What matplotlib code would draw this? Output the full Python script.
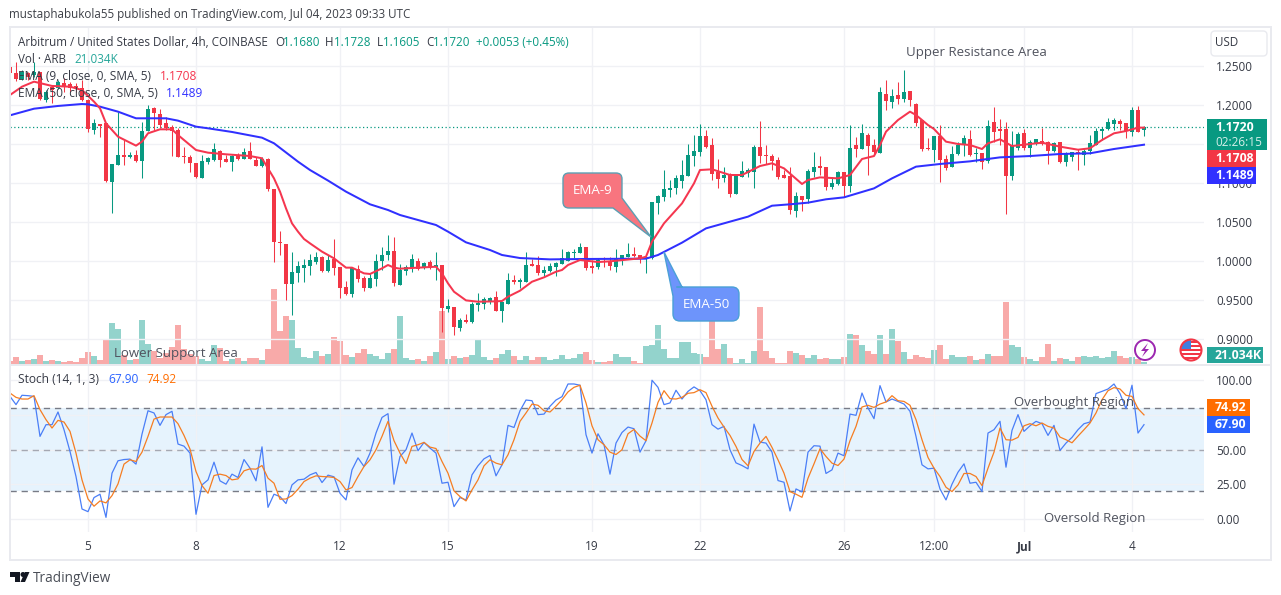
import numpy as np #calculs sur les tableaux
import matplotlib
matplotlib.use("Agg")
import matplotlib.pyplot as plt #graphique
from matplotlib.patches import Rectangle, Circle, Polygon, PathPatch, FancyBboxPatch
from matplotlib.path import Path

plt.rcParams['font.family'] = ['Open Sans', 'DejaVu Sans']

#bougies 4h ARB/USD
ouverture = [
    1.2488,1.2403,1.2326,1.2403,1.2382,1.2424,1.2061,1.2232,1.2211,1.2275,
    1.2262,1.2241,1.2211,1.2061,1.1677,1.1750,1.1763,1.1016,1.1233,1.1353,
    1.1336,1.1353,1.1285,1.1660,1.1963,1.1882,1.1763,1.1711,1.1677,1.1344,
    1.1336,1.1251,1.1067,1.1272,1.1293,1.1413,1.1306,1.1268,1.1357,1.1310,
    1.1413,1.1293,1.1221,1.1302,1.0922,1.0248,1.0218,0.9706,0.9851,0.9910,
    0.9936,0.9987,1.0051,0.9872,1.0026,0.9923,0.9667,0.9577,0.9898,0.9782,
    0.9654,0.9770,1.0000,1.0077,1.0128,0.9693,0.9872,0.9910,1.0000,0.9910,
    0.9987,0.9923,0.9949,0.9385,0.9411,0.9142,0.9245,0.9219,0.9437,0.9449,
    0.9488,0.9539,0.9360,0.9449,0.9757,0.9735,0.9731,0.9962,0.9949,0.9846,
    0.9872,0.9923,0.9962,1.0000,1.0098,1.0102,1.0179,0.9936,0.9923,1.0000,
    0.9987,0.9923,1.0021,1.0051,1.0090,1.0077,1.0026,1.0038,1.0738,1.0819,
    1.0909,1.0935,1.1024,1.1088,1.1344,1.1396,1.1601,1.1485,1.1140,1.1063,
    1.1114,1.0858,1.1075,1.1127,1.1140,1.1460,1.1357,1.1344,1.1293,1.1101,
    1.1088,1.0640,1.0832,1.0794,1.1140,1.1216,1.1204,1.0948,1.0986,1.1140,
    1.0960,1.1485,1.1434,1.1613,1.1485,1.1383,1.2138,1.2036,1.2125,1.2074,
    1.2177,1.2010,1.1805,1.1447,1.1421,1.1601,1.1306,1.1204,1.1370,1.1485,
    1.1562,1.1370,1.1383,1.1280,1.1780,1.1690,1.1690,1.1088,1.1447,1.1639,
    1.1447,1.1511,1.1536,1.1524,1.1408,1.1524,1.1268,1.1332,1.1396,1.1357,
    1.1408,1.1485,1.1664,1.1690,1.1754,1.1793,1.1767,1.1652,1.1933,1.1680]
haut = [
    1.2531,1.2552,1.2446,1.2424,1.2552,1.2424,1.2189,1.2254,1.2317,1.2339,
    1.2296,1.2275,1.2317,1.2070,1.1814,1.1750,1.1771,1.1242,1.1912,1.1549,
    1.1400,1.1421,1.1784,1.1997,1.1976,1.1942,1.1840,1.1741,1.1699,1.1464,
    1.1357,1.1259,1.1357,1.1336,1.1507,1.1421,1.1357,1.1357,1.1379,1.1443,
    1.1528,1.1336,1.1327,1.1315,1.0922,1.0384,1.0218,1.0115,1.0004,1.0030,
    1.0085,1.0111,1.0064,1.0077,1.0282,0.9923,0.9744,0.9923,0.9949,0.9808,
    0.9842,1.0090,1.0175,1.0333,1.0307,0.9962,0.9949,1.0090,1.0034,0.9991,
    1.0013,1.0115,0.9949,0.9509,0.9411,0.9270,0.9321,0.9475,0.9590,0.9543,
    0.9543,0.9616,0.9475,0.9846,0.9821,0.9778,1.0115,1.0021,1.0064,0.9936,
    0.9970,0.9991,1.0154,1.0128,1.0154,1.0230,1.0179,1.0013,1.0034,1.0055,
    1.0055,1.0154,1.0077,1.0230,1.0179,1.0077,1.0051,1.0755,1.0845,1.1165,
    1.1037,1.1101,1.1293,1.1498,1.1613,1.1754,1.1677,1.1575,1.1306,1.1208,
    1.1122,1.1101,1.1280,1.1186,1.1485,1.1793,1.1485,1.1370,1.1336,1.1165,
    1.1199,1.0883,1.0832,1.1178,1.1396,1.1344,1.1204,1.1071,1.1152,1.1140,
    1.1741,1.1583,1.1754,1.1634,1.1562,1.2228,1.2317,1.2202,1.2292,1.2446,
    1.2177,1.2023,1.1805,1.1571,1.1601,1.1741,1.1357,1.1472,1.1524,1.1613,
    1.1677,1.1443,1.1383,1.1805,1.1972,1.1818,1.1780,1.1664,1.1652,1.1690,
    1.1549,1.1562,1.1707,1.1536,1.1524,1.1524,1.1396,1.1400,1.1438,1.1430,
    1.1613,1.1703,1.1716,1.1831,1.1831,1.1818,1.1767,1.1972,1.1985,1.1728]
bas = [
    1.2394,1.2309,1.2317,1.2317,1.2360,1.2061,1.2040,1.2027,1.2198,1.2168,
    1.2168,1.2168,1.2053,1.1656,1.1626,1.1592,1.1016,1.0610,1.1229,1.1229,
    1.1315,1.1272,1.1067,1.1660,1.1677,1.1699,1.1677,1.1344,1.1327,1.1251,
    1.1144,1.1058,1.1067,1.1242,1.1285,1.1208,1.1272,1.1157,1.1293,1.1302,
    1.1302,1.1216,1.1208,1.0892,0.9991,1.0077,0.9501,0.9309,0.9735,0.9735,
    0.9821,0.9962,0.9863,0.9863,0.9821,0.9531,0.9565,0.9539,0.9735,0.9620,
    0.9650,0.9680,0.9885,1.0013,0.9684,0.9693,0.9821,0.9863,0.9885,0.9893,
    0.9893,0.9757,0.9095,0.9347,0.9052,0.9104,0.9202,0.9202,0.9360,0.9385,
    0.9449,0.9360,0.9223,0.9449,0.9701,0.9650,0.9731,0.9936,0.9821,0.9808,
    0.9863,0.9808,0.9962,1.0000,1.0043,1.0098,0.9885,0.9851,0.9898,0.9919,
    0.9885,0.9859,0.9949,1.0051,1.0047,0.9979,0.9842,1.0026,1.0602,1.0768,
    1.0824,1.0858,1.0930,1.1088,1.1216,1.1344,1.1443,1.1037,1.0935,1.1016,
    1.0819,1.0858,1.1075,1.1080,1.0935,1.1251,1.1242,1.1165,1.1050,1.1059,
    1.0602,1.0568,1.0640,1.0738,1.1080,1.1101,1.0909,1.0922,1.0973,1.0819,
    1.0883,1.1327,1.1434,1.1101,1.1370,1.1383,1.1933,1.1959,1.2010,1.2036,
    1.1985,1.1729,1.1413,1.1421,1.1268,1.1016,1.1165,1.1204,1.1357,1.1344,
    1.1344,1.1272,1.1178,1.1251,1.1524,1.1485,1.0602,1.1037,1.1421,1.1421,
    1.1336,1.1485,1.1485,1.1242,1.1400,1.1251,1.1216,1.1280,1.1165,1.1229,
    1.1370,1.1485,1.1549,1.1677,1.1677,1.1677,1.1575,1.1601,1.1652,1.1605]
cloture = [
    1.2403,1.2326,1.2424,1.2360,1.2424,1.2070,1.2168,1.2189,1.2296,1.2232,
    1.2219,1.2211,1.2061,1.1690,1.1763,1.1733,1.1029,1.1242,1.1353,1.1336,
    1.1353,1.1285,1.1660,1.1942,1.1899,1.1741,1.1699,1.1669,1.1336,1.1327,
    1.1259,1.1071,1.1280,1.1319,1.1434,1.1293,1.1272,1.1349,1.1310,1.1396,
    1.1302,1.1221,1.1302,1.0922,1.0248,1.0226,0.9706,0.9859,0.9936,0.9949,
    1.0013,1.0051,0.9872,1.0013,0.9915,0.9654,0.9577,0.9910,0.9770,0.9654,
    0.9782,1.0000,1.0077,1.0128,0.9718,0.9885,0.9923,1.0026,0.9898,0.9974,
    0.9923,0.9949,0.9398,0.9424,0.9155,0.9245,0.9219,0.9449,0.9462,0.9513,
    0.9526,0.9360,0.9475,0.9757,0.9731,0.9757,0.9949,0.9936,0.9846,0.9885,
    0.9936,0.9974,1.0038,1.0115,1.0115,1.0179,0.9910,0.9915,1.0013,0.9987,
    0.9936,1.0034,1.0077,1.0090,1.0064,1.0026,1.0051,1.0755,1.0832,1.0922,
    1.0935,1.1063,1.1101,1.1357,1.1408,1.1601,1.1460,1.1114,1.1050,1.1101,
    1.0858,1.1088,1.1152,1.1165,1.1460,1.1344,1.1344,1.1280,1.1075,1.1063,
    1.0653,1.0832,1.0781,1.1152,1.1204,1.1191,1.0948,1.0999,1.1140,1.0960,
    1.1447,1.1434,1.1639,1.1472,1.1396,1.2164,1.2049,1.2113,1.2074,1.2164,
    1.2061,1.1767,1.1434,1.1434,1.1601,1.1293,1.1191,1.1370,1.1485,1.1575,
    1.1357,1.1383,1.1268,1.1729,1.1652,1.1664,1.1088,1.1472,1.1626,1.1447,
    1.1524,1.1562,1.1498,1.1408,1.1511,1.1268,1.1370,1.1396,1.1370,1.1408,
    1.1511,1.1664,1.1690,1.1780,1.1805,1.1754,1.1664,1.1933,1.1652,1.1720]

#volume en milliers d'ARB
volume = [
    48,112,48,64,80,144,48,64,48,32,
    48,32,96,192,128,64,400,656,560,144,
    64,80,704,320,208,96,176,272,624,240,
    160,128,80,48,304,256,48,80,96,48,
    96,96,64,240,1200,528,768,704,256,112,
    96,208,128,160,432,368,144,112,176,240,
    160,128,80,176,240,768,96,64,80,48,
    128,192,848,80,128,96,112,144,400,112,
    64,96,160,224,128,64,128,64,112,112,
    64,80,144,80,96,160,192,64,32,32,
    48,160,112,112,48,16,288,304,624,240,
    96,96,352,352,176,160,112,816,240,320,
    96,16,80,16,208,912,208,96,16,16,
    208,176,144,96,144,80,96,80,80,112,
    480,464,304,208,160,464,160,560,368,192,
    80,144,112,96,224,304,80,144,112,112,
    128,64,80,160,128,128,992,304,272,112,
    80,48,112,320,48,96,80,48,112,128,
    112,128,96,112,208,128,96,112,80,21.034]

#moyennes mobiles (sommets de la courbe)
ema9_x = [0,2,4,7,10,12,14,15,16,18,21,22,23,25,27,28,31,33,36,40,42,43,44,45,46,47,48,49,50,52,54,56,57,59,60,
          62,63,64,65,68,71,72,73,74,76,78,81,82,83,85,87,89,91,92,93,95,98,100,105,106,107,109,112,114,115,117,
          120,122,125,127,129,132,133,135,138,140,142,144,145,146,148,150,151,153,154,156,158,160,162,163,165,
          167,170,172,175,178,180,182,184,186,188,189]
ema9 = [1.2125,1.2232,1.2296,1.2241,1.2232,1.2189,1.2040,1.1955,1.1763,1.1592,1.1477,1.1528,1.1635,1.1686,1.1686,
        1.1613,1.1421,1.1387,1.1366,1.1344,1.1315,1.1186,1.1058,1.0888,1.0674,1.0482,1.0376,1.0282,1.0226,1.0120,
        1.0034,0.9915,0.9915,0.9842,0.9834,0.9906,0.9949,0.9915,0.9902,0.9915,0.9927,0.9842,0.9714,0.9607,0.9496,
        0.9479,0.9484,0.9488,0.9543,0.9620,0.9735,0.9791,0.9863,0.9885,0.9949,1.0013,0.9987,0.9996,1.0034,1.0055,
        1.0248,1.0482,1.0738,1.0994,1.1165,1.1174,1.1101,1.1101,1.1216,1.1251,1.1186,1.0986,1.1037,1.1071,1.1058,
        1.1101,1.1306,1.1344,1.1485,1.1656,1.1805,1.1912,1.1869,1.1741,1.1690,1.1528,1.1498,1.1485,1.1434,1.1507,
        1.1558,1.1472,1.1498,1.1515,1.1464,1.1425,1.1443,1.1549,1.1635,1.1664,1.1707,1.1708]
ema50_x = [0,4,8,12,13,15,18,21,23,26,28,31,33,37,42,44,48,50,53,56,60,63,65,68,71,73,76,80,82,85,90,96,106,108,
           112,116,120,123,127,130,133,136,139,144,147,151,155,160,165,170,175,180,184,189]
ema50 = [1.1865,1.1950,1.1985,1.2010,1.2006,1.1976,1.1912,1.1827,1.1827,1.1827,1.1797,1.1720,1.1699,1.1652,1.1579,
         1.1507,1.1272,1.1165,1.1030,1.0888,1.0726,1.0653,1.0589,1.0525,1.0461,1.0376,1.0239,1.0141,1.0077,1.0038,
         1.0021,1.0026,1.0030,1.0077,1.0235,1.0418,1.0504,1.0568,1.0708,1.0726,1.0747,1.0790,1.0815,1.0930,1.1058,
         1.1208,1.1242,1.1276,1.1327,1.1344,1.1370,1.1379,1.1434,1.1489]

#stochastique
stoch_k = [
    88.2,82.3,89.0,88.7,88.2,59.5,67.9,67.9,77.0,64.3,48.7,30.7,7.4,5.5,15.6,18.0,1.4,33.1,42.0,42.9,
    43.2,39.6,61.1,77.9,76.3,67.4,75.1,77.5,54.0,52.5,47.5,3.6,24.7,28.3,41.0,27.6,25.2,32.4,30.0,42.9,
    36.7,27.6,52.0,8.6,18.0,16.3,11.3,24.7,28.3,28.8,31.9,33.6,26.4,31.7,30.5,18.7,13.9,35.5,44.1,37.9,
    47.5,61.9,73.1,75.8,25.2,45.1,49.9,61.9,49.2,55.2,51.1,47.5,25.9,26.6,9.1,15.6,13.9,31.9,38.4,43.4,
    45.8,31.2,39.1,67.4,65.9,77.9,85.6,85.1,75.1,75.5,81.1,85.6,88.0,97.1,97.1,96.2,60.7,47.5,61.4,53.5,
    32.4,54.7,62.3,66.2,65.0,48.2,56.4,99.8,94.7,82.3,83.5,92.6,86.3,91.8,95.0,92.3,85.8,67.9,64.7,66.7,
    49.9,40.5,38.6,36.2,68.3,55.4,54.7,48.2,27.8,26.6,6.0,21.8,19.7,48.2,52.8,52.5,32.9,35.5,47.5,45.6,
    75.5,74.6,90.6,79.9,72.2,95.9,84.2,86.3,84.6,82.7,77.5,59.5,39.1,36.2,36.7,21.8,13.9,25.2,33.8,39.8,
    25.9,26.6,19.9,61.9,64.3,70.3,37.4,63.8,75.1,63.1,67.1,70.3,68.6,60.2,67.4,49.4,54.7,58.8,64.3,68.6,
    69.8,90.2,91.8,93.5,97.1,90.2,79.4,96.2,61.9,67.9]
stoch_d = [
    90.6,87.5,86.3,86.3,88.7,78.7,71.5,65.5,71.0,69.8,63.1,47.5,28.3,14.6,9.4,13.2,11.8,17.0,25.4,39.6,
    42.7,41.5,48.2,59.5,71.9,73.4,73.4,73.4,68.6,60.2,50.4,34.3,24.2,18.7,31.4,32.4,31.4,28.3,29.0,34.8,
    36.2,36.0,38.6,29.5,25.9,14.4,14.6,17.0,21.6,27.1,29.5,31.2,30.7,30.5,30.0,27.1,21.1,22.8,30.7,37.9,
    42.7,49.9,59.5,70.3,56.4,47.5,40.0,52.3,53.5,55.2,51.8,50.8,41.5,33.1,20.4,16.3,13.2,21.1,28.3,38.4,
    42.7,40.3,39.1,46.3,57.1,70.3,76.3,82.7,81.8,77.9,77.0,81.1,85.8,91.4,94.7,96.2,83.5,67.1,57.1,53.5,
    48.2,46.5,49.9,61.4,64.5,59.7,56.4,69.1,83.9,92.3,86.6,86.3,87.5,90.4,90.9,93.0,90.9,81.1,72.7,66.2,
    60.2,52.3,42.9,38.4,48.7,54.7,59.5,51.6,42.7,33.1,19.9,18.0,15.8,29.5,39.8,50.6,45.1,40.3,38.6,43.2,
    56.4,66.7,80.6,81.8,80.3,82.7,84.2,88.7,85.1,84.6,81.8,71.5,57.1,44.4,36.7,30.7,23.0,19.9,24.7,32.9,
    32.9,30.7,24.2,36.7,48.2,65.5,57.1,56.8,58.8,67.1,68.6,67.1,69.1,66.7,65.5,59.0,57.1,54.9,59.7,64.3,
    69.1,76.3,85.8,92.3,94.5,93.5,89.0,88.2,79.4,74.92]

#axes du graphique
prix_ticks = [0.90,0.95,1.00,1.05,1.10,1.15,1.20,1.25]
prix_labels = ['0.9000','0.9500','1.0000','1.0500','1.1000','','1.2000','1.2500'] #1.1500 cache par l'etiquette
stoch_ticks = [0,25,50,75,100]
stoch_labels = ['0.00','25.00','50.00','','100.00'] #75.00 cache par l'etiquette
temps_pos = [13,31,55,73,97,115,139,154,169,187]
temps_labels = ['5','8','12','15','19','22','26','12:00','Jul','4']

VERT = '#089981'
ROUGE = '#f23645'
BLEU_EMA = '#3030ff'
GRILLE = '#f0f1f5'
TEXTE = '#363a45'
W, H = 1281, 595

def rect_px(x0, y0, x1, y1):
    #position d'un axe a partir de pixels (origine en haut a gauche)
    return [x0/W, 1-y1/H, (x1-x0)/W, (y1-y0)/H]

fig = plt.figure(figsize=(W/100, H/100), dpi=100, facecolor='white')

idx = np.arange(len(cloture))
o, hh, bb, c = map(np.array, (ouverture, haut, bas, cloture))
hausse = c >= o
couleurs = np.where(hausse, VERT, ROUGE)

#volume derriere les bougies
ax_vol = fig.add_axes(rect_px(10, 28, 1204, 363.5), zorder=1)
ax_vol.bar(idx, volume, width=0.85, color=np.where(hausse, '#93d3cc', '#f8aaa9'), linewidth=0)
ax_vol.set_xlim(0, 199)
ax_vol.set_ylim(0, 5368)
ax_vol.axis('off')

#prix
ax = fig.add_axes(rect_px(10, 28, 1204, 363.5), zorder=2)
ax.patch.set_alpha(0)
ax.set_xlim(0, 199)
ax.set_ylim(0.8688, 1.2983)
ax.set_axisbelow(True)
ax.grid(True, color=GRILLE, linewidth=1)
ax.set_xticks(temps_pos)
ax.set_yticks(prix_ticks)
ax.set_yticklabels(prix_labels)
ax.yaxis.tick_right()
ax.tick_params(axis='y', length=0, pad=8.6, labelsize=8.5, labelcolor=TEXTE)
ax.tick_params(axis='x', length=0, labelbottom=False)
for s in ax.spines.values():
    s.set_visible(False)
ax.vlines(idx, bb, hh, colors=couleurs, linewidth=0.75, zorder=3)
ax.bar(idx, np.abs(c-o), bottom=np.minimum(o, c), width=0.8, color=couleurs, linewidth=0, zorder=3)
ax.plot(ema50_x, ema50, color=BLEU_EMA, linewidth=1.45, solid_joinstyle='round', zorder=4)
ax.plot(ema9_x, ema9, color='#f5364f', linewidth=1.45, solid_joinstyle='round', zorder=4)
ax.axhline(1.1720, color=VERT, linewidth=0.9, linestyle=(0, (1, 2)), zorder=2)

#stochastique
ax2 = fig.add_axes(rect_px(10, 366, 1204, 532), zorder=2)
ax2.set_xlim(0, 199)
ax2.set_ylim(-9.1, 110)
ax2.axhspan(20, 80, color='#e6f3fd', linewidth=0, zorder=0)
ax2.set_axisbelow(True)
ax2.grid(True, color=GRILLE, linewidth=1)
ax2.set_xticks(temps_pos)
ax2.set_xticklabels(temps_labels)
ax2.set_yticks(stoch_ticks)
ax2.set_yticklabels(stoch_labels)
ax2.yaxis.tick_right()
ax2.tick_params(axis='y', length=0, pad=8.6, labelsize=8.5, labelcolor=TEXTE)
ax2.tick_params(axis='x', length=0, pad=6, labelsize=8.5, labelcolor=TEXTE)
ax2.get_xticklabels()[8].set_fontweight('bold')
for s in ax2.spines.values():
    s.set_visible(False)
ax2.axhline(80, color='#787b86', linewidth=1, linestyle=(0, (4.5, 3.5)), zorder=1)
ax2.axhline(50, color='#a5a8b2', linewidth=1, linestyle=(0, (4.5, 3.5)), zorder=1)
ax2.axhline(20, color='#787b86', linewidth=1, linestyle=(0, (4.5, 3.5)), zorder=1)
ax2.plot(idx, stoch_k, color='#4a7ef7', linewidth=0.9, zorder=3)
ax2.plot(idx, stoch_d, color='#f57d22', linewidth=0.9, zorder=3)

#couche en pixels pour les textes et etiquettes
ov = fig.add_axes([0, 0, 1, 1], zorder=10)
ov.set_xlim(0, W)
ov.set_ylim(H, 0)
ov.axis('off')

def texte(x, y, s, color=TEXTE, size=8.4, **kw):
    ov.text(x, y, s, color=color, fontsize=size, va='center', ha=kw.pop('ha', 'left'), **kw)

def badge(x0, y0, x1, y1, couleur):
    ov.add_patch(Rectangle((x0, y0), x1-x0, y1-y0, facecolor=couleur, edgecolor='none'))

def bulle(points, fc, ec):
    #contour aux coins arrondis : (x, y, rayon)
    verts, codes = [], []
    n = len(points)
    for k, (x, y, r) in enumerate(points):
        if r == 0:
            verts.append((x, y))
            codes.append(Path.LINETO)
            continue
        px, py, _ = points[k-1]
        nx, ny, _ = points[(k+1) % n]
        d1 = np.hypot(px-x, py-y)
        d2 = np.hypot(nx-x, ny-y)
        verts += [(x+(px-x)*r/d1, y+(py-y)*r/d1), (x, y), (x+(nx-x)*r/d2, y+(ny-y)*r/d2)]
        codes += [Path.LINETO, Path.CURVE3, Path.CURVE3]
    codes[0] = Path.MOVETO
    verts.append(verts[0])
    codes.append(Path.CLOSEPOLY)
    ov.add_patch(PathPatch(Path(verts, codes), facecolor=fc, edgecolor=ec, linewidth=1))

#cadre
for r in [(9, 26, 1272, 28), (9, 26, 11, 561), (1270, 26, 1272, 561), (9, 559, 1272, 561), (9, 363.5, 1272, 365.5)]:
    ov.add_patch(Rectangle((r[0], r[1]), r[2]-r[0], r[3]-r[1], facecolor='#e9eaef', edgecolor='none'))

#en-tete
texte(9, 14.5, 'mustaphabukola55 published on TradingView.com, Jul 04, 2023 09:33 UTC', color='#3d4047')
texte(18, 42, 'Arbitrum / United States Dollar, 4h, COINBASE')
for x, s, col in [(275, 'O', TEXTE), (282.5, '1.1680', VERT), (325, 'H', TEXTE), (334, '1.1728', VERT),
                  (377, 'L', TEXTE), (383.5, '1.1605', VERT), (426, 'C', TEXTE), (432.5, '1.1720', VERT),
                  (475.5, '+0.0053 (+0.45%)', VERT)]:
    texte(x, 42, s, color=col)
texte(18, 59.5, 'Vol · ARB')
texte(74, 59.5, '21.034K', color='#26a69a')
texte(18, 76.5, 'EMA (9, close, 0, SMA, 5)', size=8.6)
texte(160, 76.5, '1.1708', color='#f5364f', size=8.6)
texte(18, 93.5, 'EMA (50, close, 0, SMA, 5)', size=8.6)
texte(166, 93.5, '1.1489', color=BLEU_EMA, size=8.6)
texte(18, 379.5, 'Stoch (14, 1, 3)', size=8.6)
texte(108, 379.5, '67.90', color='#2962ff', size=8.6)
texte(146, 379.5, '74.92', color='#ff6d00', size=8.6)

#textes ajoutes sur le graphique
GRIS = '#50535e'
texte(906, 52.5, 'Upper Resistance Area', color=GRIS, size=9.5)
texte(114, 353, 'Lower Support Area', color=GRIS, size=9.5)
texte(1014, 402.5, 'Overbought Region', color=GRIS, size=9.5)
texte(1044, 518.5, 'Oversold Region', color=GRIS, size=9.5)

#bulles EMA-9 et EMA-50
bulle([(563, 173, 6), (622, 173, 6), (622, 198, 0), (651, 237, 0), (613, 208, 0), (563, 208, 6)], '#f8757f', '#5c9fb3')
texte(592.5, 191, 'EMA-9', color='white', size=9.6, ha='center')
bulle([(673, 287, 7), (682, 287, 0), (664, 252, 0), (673, 296, 0), (673, 321, 7), (739, 321, 7), (739, 287, 7)], '#6d94fb', '#4aa0d6')
texte(706, 304.5, 'EMA-50', color='white', size=9.6, ha='center')

#etiquettes de prix
badge(1207, 119, 1267, 150, VERT)
texte(1215, 127.5, '1.1720', color='white', size=8.8, fontweight='bold')
texte(1215, 142, '02:26:15', color='#d5efe9', size=8.5)
badge(1207, 150, 1256, 167, ROUGE)
texte(1215, 158.5, '1.1708', color='white', size=8.8, fontweight='bold')
badge(1207, 167, 1256, 184, BLEU_EMA)
texte(1215, 175.5, '1.1489', color='white', size=8.8, fontweight='bold')
badge(1207, 347, 1263, 363, '#26a69a')
texte(1215, 355.5, '21.034K', color='white', size=8.8, fontweight='bold')
badge(1207, 399, 1250, 416, '#ff6d00')
texte(1215, 407.5, '74.92', color='white', size=8.8, fontweight='bold')
badge(1207, 416, 1250, 433, '#2962ff')
texte(1215, 424.5, '67.90', color='white', size=8.8, fontweight='bold')

#bouton USD
ov.add_patch(FancyBboxPatch((1213, 33), 52, 21, boxstyle='round,pad=2,rounding_size=4',
                            facecolor='white', edgecolor='#e9eaef', linewidth=1))
texte(1214.5, 43, 'USD', size=8.4)

#icones
ov.add_patch(Circle((1145, 350), 10, facecolor='white', edgecolor='#9c27b0', linewidth=1.4))
ov.add_patch(Polygon([(1148, 343), (1141, 351), (1145, 351), (1142, 357), (1149, 349), (1145, 349)], facecolor='#9c27b0', edgecolor='none'))
drapeau = Circle((1191, 350), 10, transform=ov.transData)
for k in range(5):
    bande = Rectangle((1180, 341+k*4), 22, 2.2, facecolor='#f23645', edgecolor='none')
    ov.add_patch(bande)
    bande.set_clip_path(drapeau)
coin = Rectangle((1180, 340), 11, 9, facecolor='#3f7fe0', edgecolor='none')
ov.add_patch(coin)
coin.set_clip_path(drapeau)
ov.add_patch(Circle((1191, 350), 10.5, facecolor='none', edgecolor='#f23645', linewidth=1.5))

#logo TradingView
ov.add_patch(Polygon([(10, 572), (20, 572), (20, 582), (14.5, 582), (14.5, 577), (10, 577)], facecolor='#131722', edgecolor='none'))
ov.add_patch(Circle((23, 574.5), 2.5, facecolor='#131722', edgecolor='none'))
ov.add_patch(Polygon([(25, 572), (29.5, 572), (25, 582), (20.5, 582)], facecolor='#131722', edgecolor='none'))
texte(33, 578, 'TradingView', color='#4a4e57', size=9.8)

fig.savefig('out.png', dpi=100)
